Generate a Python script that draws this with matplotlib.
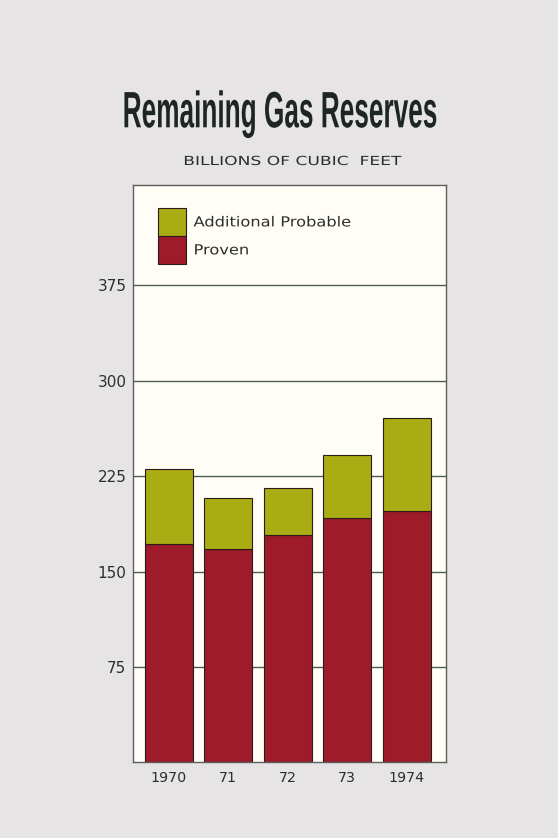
import matplotlib
matplotlib.use("Agg")
import matplotlib.pyplot as plt
from matplotlib.patches import Patch
from matplotlib.patheffects import AbstractPathEffect
from matplotlib.transforms import Affine2D

# Remaining gas reserves, billions of cubic feet
years = ["1970", "71", "72", "73", "1974"]
proven = [172, 168, 179, 192, 198]
additional_probable = [59, 40, 37, 50, 73]
y_ticks = [75, 150, 225, 300, 375]

RED = "#9e1b2a"
OLIVE = "#a9ac12"
PAPER = "#e6e4e4"
PANEL = "#fffdf6"
INK = "#2b2f2e"
GRID = "#4f5c50"
EDGE = "#2a1a1c"


class Rescale(AbstractPathEffect):
    """Scale glyph outlines about a fixed anchor point (pixels)."""

    def __init__(self, sx=1.0, sy=1.0, cx=0.0, cy=0.0):
        super().__init__()
        self.sx, self.sy, self.cx, self.cy = sx, sy, cx, cy

    def draw_path(self, renderer, gc, tpath, affine, rgbFace=None):
        t = affine + (Affine2D().translate(-self.cx, -self.cy)
                      .scale(self.sx, self.sy).translate(self.cx, self.cy))
        renderer.draw_path(gc, tpath, t, rgbFace)


W, H = 558, 838
fig = plt.figure(figsize=(W / 100, H / 100), dpi=100, facecolor=PAPER)

ax = fig.add_axes([133.3 / W, 1 - 762.3 / H, (445.7 - 133.3) / W, (762.3 - 185) / H])
ax.set_facecolor(PANEL)
ax.set_axisbelow(True)

x = list(range(len(years)))
ax.bar(x, proven, width=0.81, color=RED, edgecolor=EDGE, linewidth=0.8, zorder=2)
ax.bar(x, additional_probable, width=0.81, bottom=proven, color=OLIVE,
       edgecolor=EDGE, linewidth=0.8, zorder=2)

ax.set_xlim(-0.6, 4.657)
ax.set_ylim(0, 454)
ax.set_yticks(y_ticks)
ax.set_yticklabels([str(v) for v in y_ticks])
ax.set_xticks(x)
ax.set_xticklabels(years)
ax.yaxis.grid(True, color=GRID, linewidth=1.0)
ax.tick_params(axis="both", length=0, colors=INK)
ax.tick_params(axis="y", pad=5, labelsize=11)
ax.tick_params(axis="x", pad=6, labelsize=10.3)
for s in ax.spines.values():
    s.set_color("#5c5f5c")
    s.set_linewidth(1.0)

handles = [Patch(facecolor=OLIVE, edgecolor=EDGE, linewidth=0.8, label="Additional Probable"),
           Patch(facecolor=RED, edgecolor=EDGE, linewidth=0.8, label="Proven")]
leg = ax.legend(handles=handles, loc="upper left",
                bbox_to_anchor=(157.7 / W, 1 - 208.3 / H), bbox_transform=fig.transFigure,
                frameon=False, borderpad=0, borderaxespad=0, labelspacing=0,
                handleheight=2.72, handlelength=2.03, handletextpad=0.55,
                prop={"family": "DejaVu Sans", "size": 10})
for t in leg.get_texts():
    t.set_color(INK)

# Condensed display title: small font, stretched to the wanted cap height and width
title_cx, title_base = 280.5, 127.3
title = fig.text(title_cx / W, 1 - title_base / H, "Remaining Gas Reserves", ha="center",
                 va="baseline", fontsize=24, fontweight="bold",
                 family="Liberation Sans", color="#1e2624")
sub_cx, sub_base = 292.5, 165.0
sub = fig.text(sub_cx / W, 1 - sub_base / H, "BILLIONS OF CUBIC  FEET", ha="center",
               va="baseline", fontsize=9, family="DejaVu Sans", color=INK)

fig.canvas.draw()
cap_px = 24 / 72 * 100 * 0.716
bb = title.get_window_extent()
title.set_path_effects([Rescale(315.6 / bb.width, 36.6 / cap_px, title_cx, H - title_base)])
sb = sub.get_window_extent()
sub.set_path_effects([Rescale(218.5 / sb.width, 1.0, sub_cx, H - sub_base)])
# widen the legend lettering (tracked-out type)
for t in leg.get_texts():
    tb = t.get_window_extent()
    t.set_path_effects([Rescale(1.17, 1.0, tb.x0, 0.0)])

fig.savefig("out.png", dpi=100, facecolor=PAPER)
